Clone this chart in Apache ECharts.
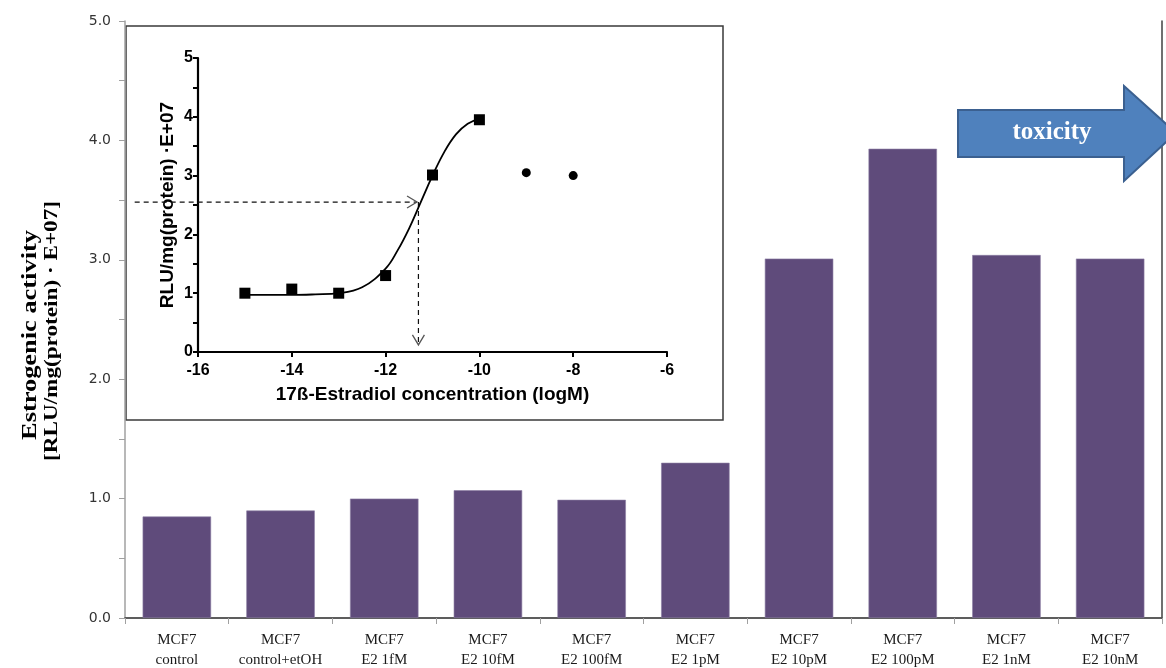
<!DOCTYPE html>
<html>
<head>
<meta charset="utf-8">
<script src="https://cdn.jsdelivr.net/npm/echarts@6/dist/echarts.min.js"></script>
<style>html,body{margin:0;padding:0;background:#fff}#c{width:1166px;height:668px}</style>
</head>
<body>
<div id="c"></div>
<script>
// ---- main bar chart data ----
const categories = ['MCF7\ncontrol','MCF7\ncontrol+etOH','MCF7\nE2 1fM','MCF7\nE2 10fM','MCF7\nE2 100fM','MCF7\nE2 1pM','MCF7\nE2 10pM','MCF7\nE2 100pM','MCF7\nE2 1nM','MCF7\nE2 10nM'];
const barValues = [0.85, 0.90, 1.00, 1.07, 0.99, 1.30, 3.01, 3.93, 3.04, 3.01];
const mainYTicks = [0, 1, 2, 3, 4, 5];

// ---- inset dose-response data (log M, RLU/mg E+07) ----
const insetSquareX = [-15, -14, -13, -12, -11, -10];
const insetSquareY = [1.00, 1.07, 1.00, 1.30, 3.01, 3.95];
const insetCircleX = [-9, -8];
const insetCircleY = [3.05, 3.00];
const curveX = [-15, -14, -13.5, -13, -12.5, -12, -11.75, -11.5, -11.25, -11, -10.75, -10.5, -10.25, -10];
const curveY = [0.97, 0.97, 0.98, 1.00, 1.10, 1.42, 1.72, 2.10, 2.55, 3.00, 3.40, 3.70, 3.88, 3.97];
// dashed arrows: [x1, y1, x2, y2]
const arrowH = [-17.35, 2.55, -11.33, 2.55];
const arrowV = [-11.30, 2.55, -11.30, 0.12];

const chart = echarts.init(document.getElementById('c'), null, {renderer: 'canvas'});

function zip(a, b) { return a.map((v, i) => [v, b[i]]); }

const serif = 'Liberation Serif, Times New Roman, serif';
const sans = 'Liberation Sans, Arial, sans-serif';

function arrowRender(params, api) {
  const p1 = api.coord([api.value(0), api.value(1)]);
  const p2 = api.coord([api.value(2), api.value(3)]);
  const dx = p2[0] - p1[0], dy = p2[1] - p1[1];
  const len = Math.sqrt(dx * dx + dy * dy);
  const ux = dx / len, uy = dy / len;
  const hl = 10, hw = 6;
  const a1 = [p2[0] - ux * hl - uy * hw, p2[1] - uy * hl + ux * hw];
  const a2 = [p2[0] - ux * hl + uy * hw, p2[1] - uy * hl - ux * hw];
  return {
    type: 'group',
    children: [
      {type: 'line', shape: {x1: p1[0], y1: p1[1], x2: p2[0], y2: p2[1]},
       style: {stroke: '#111', lineWidth: 1.2, lineDash: [5, 4]}},
      {type: 'polyline', shape: {points: [a1, p2, a2]},
       style: {stroke: '#555', lineWidth: 1.3, fill: null}}
    ]
  };
}

const option = {
  backgroundColor: '#fff',
  animation: false,
  grid: [
    {left: 125, right: 4, top: 21, bottom: 50, outerBoundsMode: 'none', containLabel: false},
    {left: 198, right: 499, top: 58, bottom: 316, outerBoundsMode: 'none', containLabel: false}
  ],
  xAxis: [
    {
      type: 'category', gridIndex: 0, data: categories,
      axisLine: {lineStyle: {color: '#a0a0a0', width: 1.5}},
      axisTick: {show: true, length: 6, lineStyle: {color: '#a0a0a0'}},
      axisLabel: {fontFamily: serif, fontSize: 15, color: '#1a1a1a', lineHeight: 20, margin: 12, interval: 0}
    },
    {
      type: 'value', gridIndex: 1, min: -16, max: -6, interval: 2, z: 10,
      axisLine: {show: true, onZero: false, lineStyle: {color: '#000', width: 2.2}},
      axisTick: {show: true, length: 5, lineStyle: {color: '#000', width: 2}},
      axisLabel: {fontFamily: sans, fontWeight: 'bold', fontSize: 16, color: '#000', margin: 11},
      splitLine: {show: false},
      name: '17ß-Estradiol concentration (logM)', nameLocation: 'middle', nameGap: 33,
      nameTextStyle: {fontFamily: sans, fontWeight: 'bold', fontSize: 19, color: '#000'}
    },
    {
      type: 'value', gridIndex: 0, position: 'top', min: 0, max: 1,
      axisLine: {show: true, lineStyle: {color: '#404040', width: 1.5}},
      axisTick: {show: false}, axisLabel: {show: false}, splitLine: {show: false}
    }
  ],
  yAxis: [
    {
      type: 'value', gridIndex: 0, min: 0, max: 5, interval: 1,
      axisLine: {show: true, lineStyle: {color: '#a0a0a0', width: 1.5}},
      axisTick: {show: true, length: 6, lineStyle: {color: '#a0a0a0'}},
      minorTick: {show: true, splitNumber: 2, length: 6, lineStyle: {color: '#a0a0a0'}},
      axisLabel: {fontFamily: 'DejaVu Sans, Verdana, sans-serif', fontSize: 14, color: '#333', margin: 14,
        formatter: v => mainYTicks.indexOf(v) >= 0 ? v.toFixed(1) : ''},
      splitLine: {show: false}
    },
    {
      type: 'value', gridIndex: 1, min: 0, max: 5, interval: 1, z: 10,
      axisLine: {show: true, lineStyle: {color: '#000', width: 2.2}},
      axisTick: {show: true, length: 5, lineStyle: {color: '#000', width: 2}},
      minorTick: {show: true, splitNumber: 2, length: 5, lineStyle: {color: '#000', width: 2}},
      axisLabel: {fontFamily: sans, fontWeight: 'bold', fontSize: 16, color: '#000', margin: 5},
      splitLine: {show: false},
      name: 'RLU/mg(protein) ·E+07', nameLocation: 'middle', nameGap: 21, nameRotate: 90,
      nameTextStyle: {fontFamily: sans, fontWeight: 'bold', fontSize: 19, color: '#000'}
    },
    {
      type: 'value', gridIndex: 0, position: 'right', min: 0, max: 1,
      axisLine: {show: true, lineStyle: {color: '#404040', width: 1.5}},
      axisTick: {show: false}, axisLabel: {show: false}, splitLine: {show: false}
    }
  ],
  graphic: [
    {type: 'rect', z: -1, shape: {x: 126, y: 26, width: 597, height: 394},
     style: {fill: '#fff', stroke: '#3a3a3a', lineWidth: 1.5}},
    {type: 'text', rotation: Math.PI / 2, scaleX: 1.2, x: 30, y: 335, z: 50,
     style: {text: 'Estrogenic activity', font: 'bold 22px ' + serif, fill: '#000', textAlign: 'center', textVerticalAlign: 'middle'}},
    {type: 'text', rotation: Math.PI / 2, scaleX: 1.22, x: 52, y: 331, z: 50,
     style: {text: '[RLU/mg(protein) · E+07]', font: 'bold 19px ' + serif, fill: '#000', textAlign: 'center', textVerticalAlign: 'middle'}},
    {type: 'polygon', z: 100,
     shape: {points: [[958, 110], [1124, 110], [1124, 86], [1176, 133], [1124, 181], [1124, 157], [958, 157]]},
     style: {fill: '#4F81BD', stroke: '#3B6090', lineWidth: 2}},
    {type: 'text', z: 101, x: 1052, y: 133,
     style: {text: 'toxicity', font: 'bold 25px ' + serif, fill: '#fff', textAlign: 'center', textVerticalAlign: 'middle'}}
  ],
  series: [
    {
      type: 'bar', xAxisIndex: 0, yAxisIndex: 0, data: barValues,
      barCategoryGap: '34%',
      itemStyle: {color: '#5F4B7B', borderColor: '#8C7DA3', borderWidth: 0.6}
    },
    {
      type: 'line', xAxisIndex: 1, yAxisIndex: 1, data: zip(curveX, curveY), z: 11,
      smooth: 0.4, showSymbol: false, symbol: 'none',
      lineStyle: {color: '#000', width: 1.8}
    },
    {
      type: 'scatter', xAxisIndex: 1, yAxisIndex: 1, data: zip(insetSquareX, insetSquareY), z: 12,
      symbol: 'rect', symbolSize: 11, itemStyle: {color: '#000', opacity: 1}
    },
    {
      type: 'scatter', xAxisIndex: 1, yAxisIndex: 1, data: zip(insetCircleX, insetCircleY), z: 12,
      symbol: 'circle', symbolSize: 9, itemStyle: {color: '#000', opacity: 1}
    },
    {
      type: 'custom', xAxisIndex: 1, yAxisIndex: 1, z: 11, clip: false,
      renderItem: arrowRender, data: [arrowH, arrowV]
    }
  ]
};
chart.setOption(option);
</script>
</body>
</html>
